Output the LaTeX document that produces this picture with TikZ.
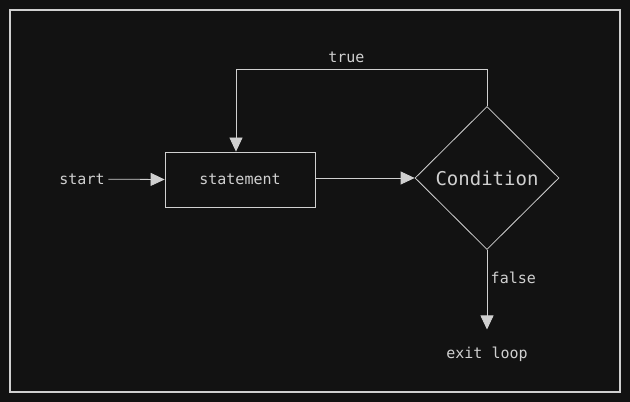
\documentclass[tikz,border=0pt]{standalone}
\usepackage{fontspec}
\setmonofont{DejaVu Sans Mono}
\usepackage{tikz}
\usetikzlibrary{positioning, shapes.geometric, arrows.meta}

\definecolor{bgdark}{HTML}{121212}
\definecolor{fgline}{HTML}{D0D0D0}

\begin{document}
\begin{tikzpicture}[x = 1pt, y = 1pt, line width = 0.8pt, draw = fgline, text = fgline,
>={Triangle[length = 14pt, width = 13pt]}, font = \ttfamily\fontsize{15}{18}\selectfont,
block/.style ={rectangle, draw = fgline, minimum width = 150pt, minimum height = 55pt},
decision/.style ={diamond, draw = fgline, inner sep = 0pt, minimum width = 144pt, minimum height = 143pt,
  font = \ttfamily\fontsize{19}{22}\selectfont},
flow/.style ={->, fgline, line width = 0.8pt}]
\fill[bgdark] (0,0) rectangle (630,402);
\useasboundingbox (0,0) rectangle (630,402);
\draw[fgline, line width = 2pt] (10,10) rectangle (620,392);

\node[block] (stmt) at (240,222.5) {statement};
\node (start) at (82,223) {start};
\node[decision] (cond) at (487,224) {Condition};
\node (exit) at (487,48) {exit loop};

\path[flow] (start) edge (stmt.west)
      (stmt.east |- cond.west) edge (cond.west);
\draw[flow] (cond.north) -- ++(0,37) -| node[pos = 0.28, above, yshift = 3pt] {true} ([xshift = -4pt]stmt.north);
\draw[flow, shorten > = 13.5pt] (cond.south) -- node[pos = 0.3, right] {false} (exit);
\end{tikzpicture}
\end{document}
